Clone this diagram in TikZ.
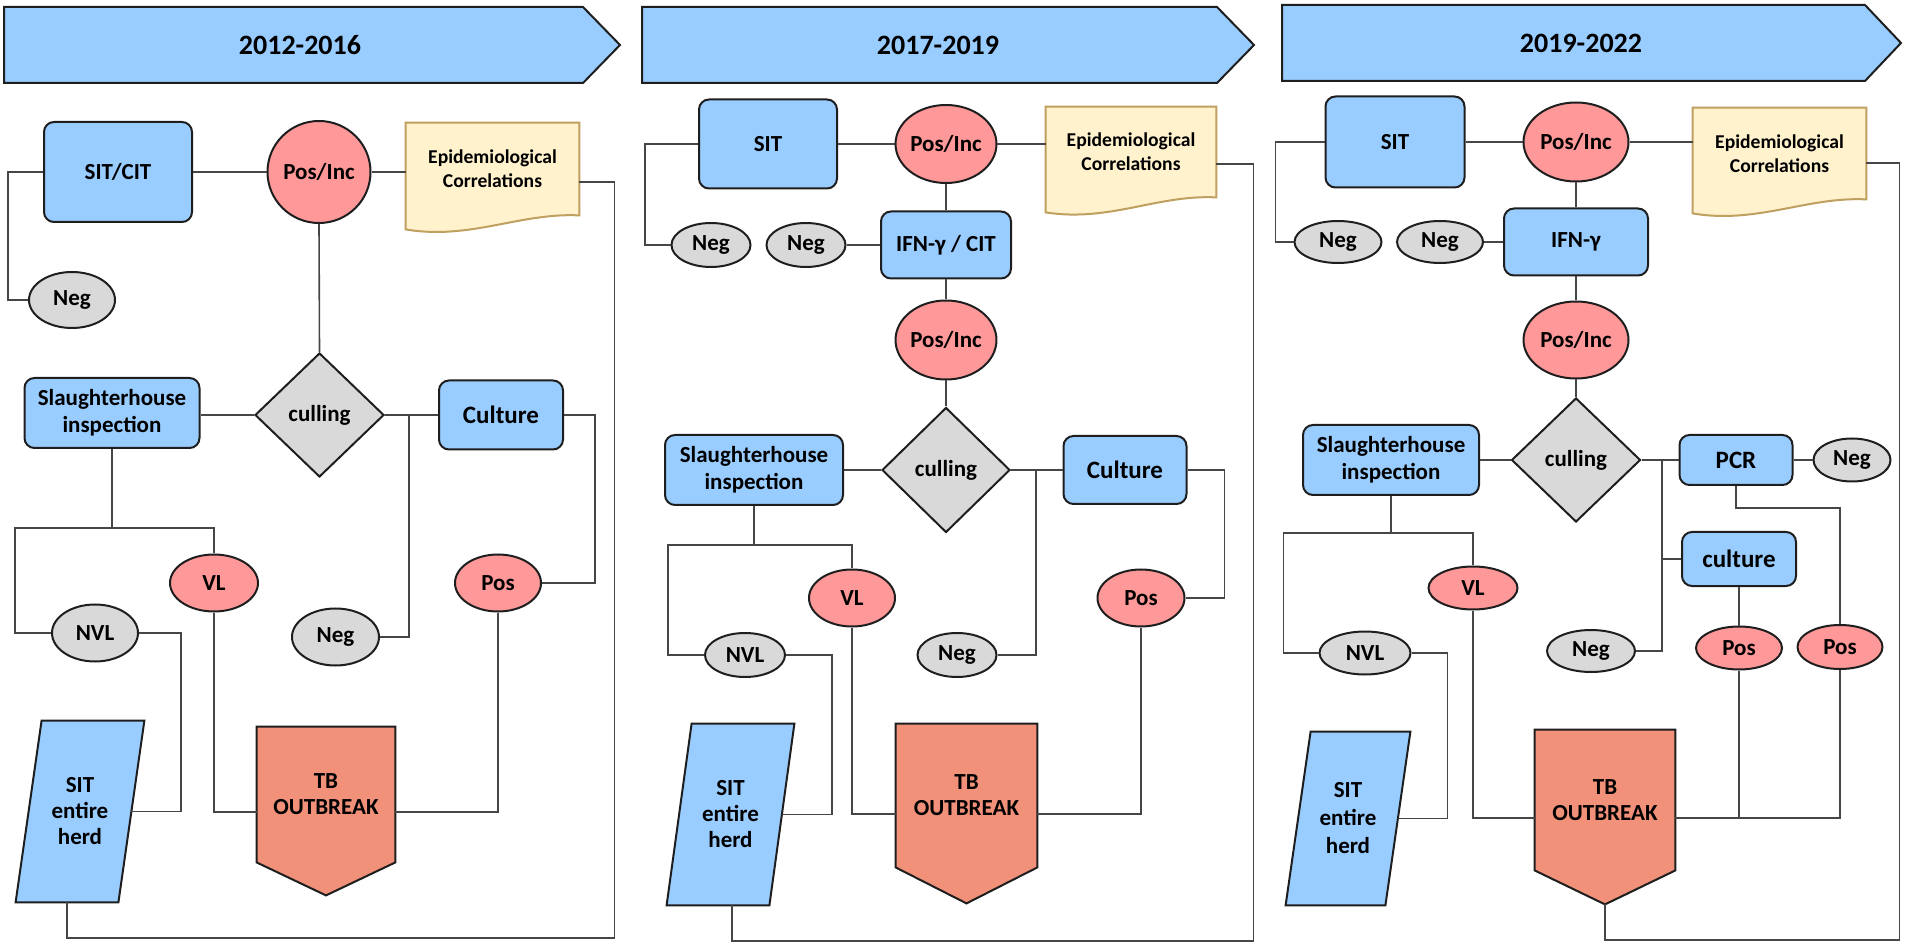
\documentclass[tikz,border=0pt]{standalone}
\usepackage{fontspec}
\setmainfont{Carlito}
\usetikzlibrary{shapes.geometric,calc}
\definecolor{bluef}{RGB}{153,204,255}
\definecolor{redf}{RGB}{255,153,153}
\definecolor{grayf}{RGB}{217,217,217}
\definecolor{epif}{RGB}{255,242,204}
\definecolor{epid}{RGB}{191,160,96}
\definecolor{tbf}{RGB}{241,145,122}
\definecolor{edge}{RGB}{30,30,30}
\definecolor{linec}{RGB}{70,70,70}
\pgfdeclarelayer{bg}
\pgfsetlayers{bg,main}
\begin{document}
\begin{tikzpicture}[x=0.5pt,y=-0.5pt,
 txt/.style={font=\bfseries\fontsize{11.5}{13.5}\selectfont, text=black, align=center},
 big/.style={font=\bfseries\fontsize{12.5}{14}\selectfont},
 box/.style={txt, rectangle, rounded corners=5pt, draw=edge, line width=1pt, fill=bluef, inner sep=0pt},
 redov/.style={txt, ellipse, draw=edge, line width=1pt, fill=redf, inner sep=0pt},
 grayov/.style={txt, ellipse, draw=edge, line width=1pt, fill=grayf, inner sep=0pt},
 dia/.style={txt, diamond, draw=edge, line width=1pt, fill=grayf, inner sep=0pt},
 link/.style={draw=linec, line width=0.8pt},
 banner/.style={draw=edge, line width=1pt, fill=bluef},
 bantext/.style={font=\bfseries\fontsize{14}{16}\selectfont, inner sep=0pt},
 epitext/.style={font=\bfseries\fontsize{9.8}{12}\selectfont, align=center, inner sep=0pt},
 doc/.style={draw=epid, line width=1pt, fill=epif},
 tbshape/.style={draw=edge, line width=1pt, fill=tbf},
 herdshape/.style={draw=edge, line width=1pt, fill=bluef},
 plain/.style={txt, inner sep=0pt},
 tbtext/.style={font=\bfseries\fontsize{11.5}{13}\selectfont},
]
\useasboundingbox (0,0) rectangle (1907,946);

% ---------------- banners ----------------
\draw[banner] (4,7) -- (583,7) -- (620,45) -- (583,83) -- (4,83) -- cycle;
\node[bantext] (ban1) at (300,45) {2012-2016};
\draw[banner] (642,7) -- (1217,7) -- (1254,45) -- (1217,83) -- (642,83) -- cycle;
\node[bantext] (ban2) at (938,45) {2017-2019};
\draw[banner] (1282,5) -- (1865,5) -- (1901,43) -- (1865,81) -- (1282,81) -- cycle;
\node[bantext] (ban3) at (1581,43) {2019-2022};

% ================= PANEL 1 =================
\node[box, minimum width=74pt, minimum height=50pt] (sit1) at (118,172) {SIT/CIT};
\node[redov, minimum width=51.5pt, minimum height=51pt] (pos1) at (319,172) {Pos/Inc};
\node[epitext, minimum width=86.5pt, minimum height=46pt] (epi1) at (492.5,169) {Epidemiological\\Correlations};
\node[grayov, minimum width=43pt, minimum height=28pt] (neg1a) at (72,300) {Neg};
\node[dia, minimum width=64.5pt, minimum height=62pt] (cul1) at (319.5,415) {culling};
\node[box, minimum width=87.5pt, minimum height=35pt] (sl1) at (112,413) {Slaughterhouse\\inspection};
\node[box, big, minimum width=62pt, minimum height=34.5pt] (cu1) at (501,415) {Culture};
\node[redov, minimum width=44pt, minimum height=28.5pt] (vl1) at (214,583) {VL};
\node[grayov, minimum width=43pt, minimum height=28.5pt] (nvl1) at (95,633) {NVL};
\node[grayov, minimum width=43.5pt, minimum height=28.5pt] (neg1b) at (335.5,637) {Neg};
\node[redov, minimum width=43pt, minimum height=28.5pt] (pos1b) at (498,583) {Pos};
\node[plain, tbtext, minimum width=69pt, minimum height=67.5pt] (tb1) at (326,794.5) {TB\\OUTBREAK};
\node[plain, tbtext, minimum width=51pt, minimum height=90.5pt] (herd1) at (80,811.5) {SIT\\entire\\herd};
\coordinate (tb1l) at ($(tb1.west)+(0,17.5)$);
\coordinate (tb1r) at ($(tb1.east)+(0,17.5)$);
\coordinate (tb1tip) at ($(tb1.south)+(0,33)$);
\coordinate (h1b) at ($(herd1.south)+(-13,0)$);
\coordinate (e1) at ($(epi1.east)+(0,13)$);
\coordinate (j1) at (409,415);
\coordinate (k1) at ($(sl1.south)+(0,79)$);
\begin{pgfonlayer}{bg}
\draw[doc] (epi1.north west) -- (epi1.north east) -- (epi1.south east)
  .. controls ($(epi1.south east)+(-59,-3)$) and ($(epi1.south west)+(64,25)$) .. ($(epi1.south west)+(0,14)$) -- cycle;
\draw[tbshape] (tb1.north west) -- (tb1.north east) -- (tb1.south east) -- (tb1tip) -- (tb1.south west) -- cycle;
\draw[herdshape] ($(herd1.north west)+(13,0)$) -- ($(herd1.north east)+(13,0)$) -- ($(herd1.south east)+(-13,0)$) -- ($(herd1.south west)+(-13,0)$) -- cycle;
\end{pgfonlayer}
\draw[link] (sit1.east) -- (pos1.west);
\draw[link] (pos1.east) -- (epi1.west |- pos1.east);
\draw[link] (sit1.west) -- ++(-35,0) |- (neg1a.west);
\draw[link] (pos1.south) -- (cul1.north);
\draw[link] (sl1.east |- cul1.west) -- (cul1.west);
\draw[link] (cul1.east) -- (cu1.west);
\draw[link] (j1) |- (neg1b.east);
\draw[link] (cu1.east) -- ++(31,0) |- (pos1b.east);
\draw[link] (sl1.south) -- (k1);
\draw[link] (nvl1.west) -- ++(-36,0) |- (k1) -| (vl1.north);
\draw[link] (nvl1.east) -- ++(42,0) |- (herd1.east);
\draw[link] (vl1.south) |- (tb1l);
\draw[link] (pos1b.south) |- (tb1r);
\draw[link] (e1) -- ++(35,0) -- ++(0,756) -| (h1b);

% ================= PANEL 2 =================
\node[box, minimum width=69pt, minimum height=44.5pt] (sit2) at (768,144) {SIT};
\node[redov, minimum width=50pt, minimum height=39pt] (pos2) at (946,144) {Pos/Inc};
\node[epitext, minimum width=85pt, minimum height=45pt] (epi2) at (1131,152) {Epidemiological\\Correlations};
\node[grayov, minimum width=39.5pt, minimum height=22pt] (neg2a) at (711,245) {Neg};
\node[grayov, minimum width=39.5pt, minimum height=22pt] (neg2b) at (806,245) {Neg};
\node[box, minimum width=65pt, minimum height=33.5pt] (ifn2) at (946,245) {IFN-γ / CIT};
\node[redov, minimum width=49.5pt, minimum height=39.5pt] (pos2b) at (946,340) {Pos/Inc};
\node[dia, minimum width=64pt, minimum height=62.5pt] (cul2) at (946,470) {culling};
\node[box, minimum width=89pt, minimum height=35pt] (sl2) at (754,470) {Slaughterhouse\\inspection};
\node[box, big, minimum width=61.5pt, minimum height=34pt] (cu2) at (1125,470) {Culture};
\node[redov, minimum width=43pt, minimum height=28.5pt] (vl2) at (852,598) {VL};
\node[grayov, minimum width=40pt, minimum height=22pt] (nvl2) at (745,655) {NVL};
\node[grayov, minimum width=39.5pt, minimum height=22pt] (neg2c) at (957,655) {Neg};
\node[redov, minimum width=43.5pt, minimum height=28.5pt] (pos2c) at (1141,598) {Pos};
\node[plain, tbtext, minimum width=70.5pt, minimum height=71.5pt] (tb2) at (966.5,795.5) {TB\\OUTBREAK};
\node[plain, tbtext, minimum width=51pt, minimum height=90.5pt] (herd2) at (730.5,814.5) {SIT\\entire\\herd};
\coordinate (tb2l) at ($(tb2.west)+(0,18.5)$);
\coordinate (tb2r) at ($(tb2.east)+(0,18.5)$);
\coordinate (tb2tip) at ($(tb2.south)+(0,36)$);
\coordinate (h2b) at ($(herd2.south)+(1.5,0)$);
\coordinate (e2) at ($(epi2.east)+(0,12)$);
\coordinate (j2) at (1036,470);
\coordinate (k2) at ($(sl2.south)+(0,39)$);
\begin{pgfonlayer}{bg}
\draw[doc] (epi2.north west) -- (epi2.north east) -- (epi2.south east)
  .. controls ($(epi2.south east)+(-59,-3)$) and ($(epi2.south west)+(64,25)$) .. ($(epi2.south west)+(0,15)$) -- cycle;
\draw[tbshape] (tb2.north west) -- (tb2.north east) -- (tb2.south east) -- (tb2tip) -- (tb2.south west) -- cycle;
\draw[herdshape] ($(herd2.north west)+(12.5,0)$) -- ($(herd2.north east)+(12.5,0)$) -- ($(herd2.south east)+(-12.5,0)$) -- ($(herd2.south west)+(-12.5,0)$) -- cycle;
\end{pgfonlayer}
\draw[link] (sit2.east) -- (pos2.west);
\draw[link] (pos2.east) -- (epi2.west |- pos2.east);
\draw[link] (sit2.west) -- ++(-53,0) |- (neg2a.west);
\draw[link] (neg2b.east) -- (ifn2.west);
\draw[link] (pos2.south) -- (ifn2.north);
\draw[link] (ifn2.south) -- (pos2b.north);
\draw[link] (pos2b.south) -- (cul2.north);
\draw[link] (sl2.east) -- (cul2.west);
\draw[link] (cul2.east) -- (cu2.west);
\draw[link] (j2) |- (neg2c.east);
\draw[link] (cu2.east) -- ++(37,0) |- (pos2c.east);
\draw[link] (sl2.south) -- (k2);
\draw[link] (nvl2.west) -- ++(-36,0) |- (k2) -| (vl2.north);
\draw[link] (nvl2.east) -- ++(46,0) |- (herd2.east);
\draw[link] (vl2.south) |- (tb2l);
\draw[link] (pos2c.south) |- (tb2r);
\draw[link] (e2) -- ++(37,0) -- ++(0,777) -| (h2b);

% ================= PANEL 3 =================
\node[box, minimum width=69.5pt, minimum height=45.5pt] (sit3) at (1395,142) {SIT};
\node[redov, minimum width=52.5pt, minimum height=39.5pt] (pos3) at (1576,142) {Pos/Inc};
\node[epitext, minimum width=86.5pt, minimum height=45.5pt] (epi3) at (1779.5,153.5) {Epidemiological\\Correlations};
\node[grayov, minimum width=43.5pt, minimum height=21pt] (neg3a) at (1338,242) {Neg};
\node[grayov, minimum width=43pt, minimum height=21pt] (neg3b) at (1440,242) {Neg};
\node[box, minimum width=72pt, minimum height=33.5pt] (ifn3) at (1576,242) {IFN-γ};
\node[redov, minimum width=52.5pt, minimum height=38.5pt] (pos3b) at (1576,340) {Pos/Inc};
\node[dia, minimum width=64.5pt, minimum height=62pt] (cul3) at (1576,460) {culling};
\node[box, minimum width=88pt, minimum height=35pt] (sl3) at (1391,460) {Slaughterhouse\\inspection};
\node[box, big, minimum width=56.5pt, minimum height=25pt] (pcr3) at (1736,460) {PCR};
\node[grayov, minimum width=38.5pt, minimum height=21.5pt] (neg3c) at (1852,460) {Neg};
\node[box, big, minimum width=57pt, minimum height=27pt] (cu3) at (1739,559) {culture};
\node[redov, minimum width=43pt, minimum height=21.5pt] (pos3c) at (1739,648) {Pos};
\node[redov, minimum width=42.5pt, minimum height=22pt] (pos3d) at (1840,647) {Pos};
\node[grayov, minimum width=44pt, minimum height=21pt] (neg3d) at (1591,651) {Neg};
\node[redov, minimum width=44.5pt, minimum height=21.5pt] (vl3) at (1473,588) {VL};
\node[grayov, minimum width=45.5pt, minimum height=21.5pt] (nvl3) at (1365,653) {NVL};
\node[plain, tbtext, minimum width=70pt, minimum height=70pt] (tb3) at (1605,800) {TB\\OUTBREAK};
\node[plain, font=\bfseries\fontsize{11.5}{14}\selectfont, minimum width=49.5pt, minimum height=86.5pt] (herd3) at (1348,818.5) {SIT\\entire\\herd};
\coordinate (tb3l) at ($(tb3.west)+(0,18)$);
\coordinate (tb3r) at ($(tb3.east)+(0,18)$);
\coordinate (tb3tip) at ($(tb3.south)+(0,34)$);
\coordinate (e3) at ($(epi3.east)+(0,9.5)$);
\coordinate (j3) at (1662,460);
\coordinate (k3) at ($(sl3.south)+(0,37)$);
\begin{pgfonlayer}{bg}
\draw[doc] (epi3.north west) -- (epi3.north east) -- (epi3.south east)
  .. controls ($(epi3.south east)+(-59,-3)$) and ($(epi3.south west)+(64,25)$) .. ($(epi3.south west)+(0,14)$) -- cycle;
\draw[tbshape] (tb3.north west) -- (tb3.north east) -- (tb3.south east) -- (tb3tip) -- (tb3.south west) -- cycle;
\draw[herdshape] ($(herd3.north west)+(12.5,0)$) -- ($(herd3.north east)+(12.5,0)$) -- ($(herd3.south east)+(-12.5,0)$) -- ($(herd3.south west)+(-12.5,0)$) -- cycle;
\end{pgfonlayer}
\draw[link] (sit3.east) -- (pos3.west);
\draw[link] (pos3.east) -- (epi3.west |- pos3.east);
\draw[link] (sit3.west) -- ++(-49,0) |- (neg3a.west);
\draw[link] (neg3b.east) -- (ifn3.west);
\draw[link] (pos3.south) -- (ifn3.north);
\draw[link] (ifn3.south) -- (pos3b.north);
\draw[link] (pos3b.south) -- (cul3.north);
\draw[link] (sl3.east) -- (cul3.west);
\draw[link] (cul3.east) -- (pcr3.west);
\draw[link] (pcr3.east) -- (neg3c.west);
\draw[link] (j3) |- (neg3d.east);
\draw[link] (cu3.west) -- (cu3.west -| j3);
\draw[link] (pcr3.south) -- ++(0,22) -| (pos3d.north);
\draw[link] (cu3.south) -- (pos3c.north);
\draw[link] (sl3.south) -- (k3);
\draw[link] (nvl3.west) -- ++(-35,0) |- (k3) -| (vl3.north);
\draw[link] (nvl3.east) -- ++(36,0) |- (herd3.east);
\draw[link] (vl3.south) |- (tb3l);
\draw[link] (tb3r) -| (pos3d.south);
\draw[link] (pos3c.south) -- (pos3c.south |- tb3r);
\draw[link] (e3) -- ++(33,0) -- ++(0,777) -| (tb3tip);
\end{tikzpicture}
\end{document}
